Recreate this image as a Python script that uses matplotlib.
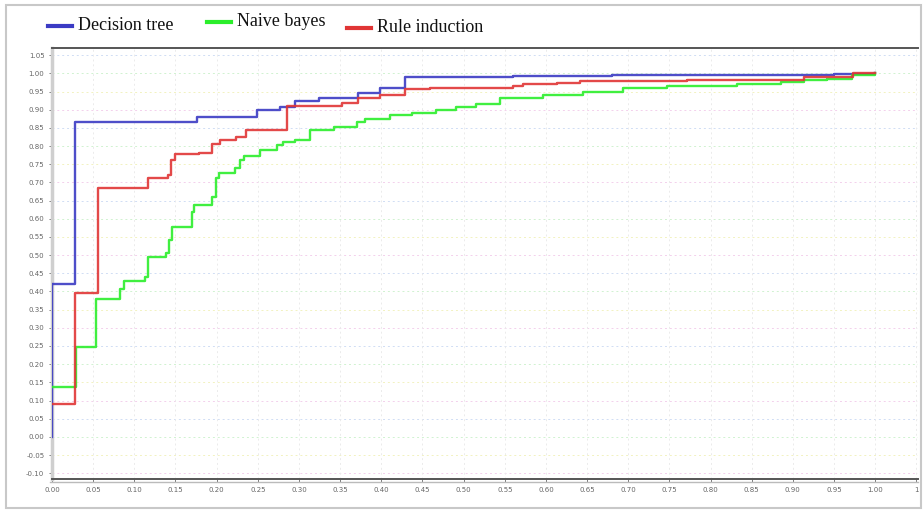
import numpy as np
import matplotlib
matplotlib.use("Agg")
import matplotlib.pyplot as plt
from matplotlib.lines import Line2D
from matplotlib.patches import Rectangle

# step curves (x = false positive rate, y = true positive rate)
tree_x = [0.0, 0.0, 0.028, 0.176, 0.249, 0.277, 0.295, 0.324, 0.372, 0.399, 0.429, 0.56, 0.68, 0.95, 1.0]
tree_y = [0.0, 0.42, 0.865, 0.879, 0.900, 0.909, 0.923, 0.932, 0.947, 0.959, 0.989, 0.992, 0.996, 0.998, 1.0]

bayes_x = [0.0, 0.029, 0.054, 0.083, 0.087, 0.113, 0.117, 0.139, 0.142, 0.146, 0.170, 0.173, 0.194, 0.199,
           0.203, 0.222, 0.228, 0.233, 0.253, 0.273, 0.281, 0.295, 0.313, 0.342, 0.37, 0.38, 0.411, 0.437,
           0.467, 0.491, 0.515, 0.544, 0.597, 0.645, 0.694, 0.747, 0.832, 0.885, 0.913, 0.941, 0.972, 1.0]
bayes_y = [0.138, 0.246, 0.378, 0.408, 0.429, 0.44, 0.494, 0.505, 0.541, 0.578, 0.619, 0.638, 0.66, 0.711,
           0.725, 0.739, 0.761, 0.772, 0.789, 0.803, 0.812, 0.818, 0.844, 0.853, 0.867, 0.876, 0.885, 0.892,
           0.90, 0.908, 0.917, 0.932, 0.94, 0.95, 0.961, 0.965, 0.972, 0.977, 0.983, 0.986, 0.995, 1.0]

rule_x = [0.0, 0.028, 0.056, 0.117, 0.141, 0.145, 0.150, 0.178, 0.194, 0.204, 0.224, 0.236, 0.285, 0.352,
          0.372, 0.399, 0.429, 0.459, 0.56, 0.572, 0.613, 0.642, 0.771, 0.913, 0.973, 1.0]
rule_y = [0.09, 0.397, 0.685, 0.711, 0.72, 0.761, 0.778, 0.781, 0.805, 0.818, 0.824, 0.844, 0.911, 0.92,
          0.932, 0.941, 0.956, 0.96, 0.966, 0.97, 0.975, 0.978, 0.983, 0.991, 1.0, 1.0]

series_names = ["Decision tree", "Naive bayes", "Rule induction"]
series_colors = ["#3b3bc4", "#2bee2b", "#e03535"]

x_ticks = list(np.round(np.arange(0, 1.0001, 0.05), 2)) + [1.05]
x_labels = ["%.2f" % v for v in x_ticks[:-1]] + ["1"]
y_ticks = np.round(np.arange(-0.10, 1.0501, 0.05), 2)

fig = plt.figure(figsize=(9.24, 5.12), dpi=100)
ax = fig.add_axes([52 / 924, 1 - 479 / 512, 866 / 924, 431 / 512])

# faint coloured dotted grid
grid_cols = ["#f3d0ec", "#f2f2c0", "#d0f2d0", "#d0ddf4"]
for i, yv in enumerate(y_ticks):
    ax.axhline(yv, color=grid_cols[i % 4], lw=0.7, ls=(0, (2, 3)), zorder=0)
for xv in x_ticks:
    ax.axvline(xv, color="#ebebeb", lw=0.7, ls=(0, (2, 3)), zorder=0)

for xs, ys, c in zip([tree_x, bayes_x, rule_x], [tree_y, bayes_y, rule_y], series_colors):
    ax.plot(xs, ys, drawstyle="steps-post", color=c, lw=1.7, alpha=0.9, zorder=3)

ax.set_xlim(0, 1.052)
ax.set_ylim(-0.116, 1.07)
ax.set_xticks(x_ticks)
ax.set_xticklabels(x_labels)
ax.set_yticks(y_ticks)
ax.set_yticklabels(["%.2f" % v for v in y_ticks])
ax.tick_params(labelsize=5, colors="#666666", length=2, width=0.6)

ax.spines["right"].set_visible(False)
ax.spines["top"].set_color("#555555")
ax.spines["top"].set_linewidth(1.4)
ax.spines["bottom"].set_color("#555555")
ax.spines["bottom"].set_linewidth(1.4)
ax.spines["left"].set_color("#cfcfcf")
ax.spines["left"].set_linewidth(2.5)

# light second rule just under the x axis line
fig.add_artist(Line2D([50 / 924, 918 / 924], [1 - 482 / 512, 1 - 482 / 512],
                      transform=fig.transFigure, color="#bbbbbb", lw=1.0))

# outer frame of the panel
fig.patches.append(Rectangle((6 / 924, 4 / 512), 915 / 924, 503 / 512, transform=fig.transFigure,
                             fill=False, edgecolor="#c8c8c8", lw=1.5))

# legend along the top
legend_pos = [(48, 26, 78), (207, 22, 237), (347, 28, 377)]
for (x0, yc, tx), name, c in zip(legend_pos, series_names, series_colors):
    fig.add_artist(Line2D([x0 / 924, (x0 + 24) / 924], [1 - yc / 512, 1 - yc / 512],
                          transform=fig.transFigure, color=c, lw=3.0))
    fig.text(tx / 924, 1 - yc / 512, name, family="Liberation Serif", fontsize=13,
             va="center", ha="left", color="#111111")

fig.savefig("out.png", dpi=100)
